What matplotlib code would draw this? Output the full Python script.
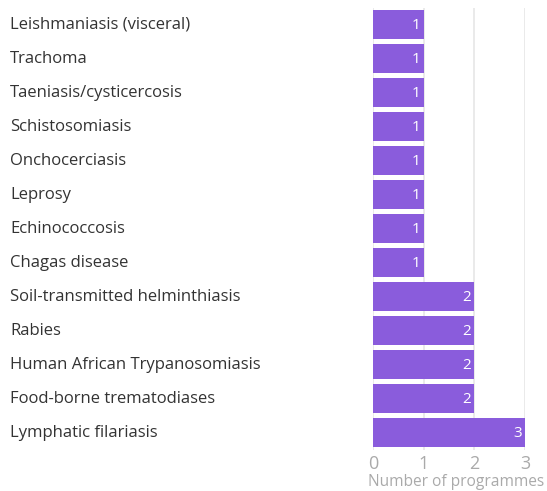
import matplotlib.pyplot as plt
import matplotlib.transforms as mtransforms

diseases = ['Leishmaniasis (visceral)', 'Trachoma', 'Taeniasis/cysticercosis',
            'Schistosomiasis', 'Onchocerciasis', 'Leprosy', 'Echinococcosis',
            'Chagas disease', 'Soil-transmitted helminthiasis', 'Rabies',
            'Human African Trypanosomiasis', 'Food-borne trematodiases',
            'Lymphatic filariasis']
programmes = [1, 1, 1, 1, 1, 1, 1, 1, 2, 2, 2, 2, 3]
xticks = [0, 1, 2, 3]

plt.rcParams['font.family'] = ['Open Sans', 'DejaVu Sans']

W, H = 547, 491
fig = plt.figure(figsize=(W / 100, H / 100), dpi=100)
ax = fig.add_axes([373 / W, 1 - 449.5 / H, 152 / W, 442 / H])

ypos = list(range(len(diseases)))
ax.barh(ypos, programmes, height=0.85, color='#8a5cdc', zorder=3)
for y, v in zip(ypos, programmes):
    ax.text(v - 0.06, y + 0.03, str(v), ha='right', va='center', color='white',
            fontsize=11, zorder=4)

# category names sit at the left edge of the figure
trans = mtransforms.blended_transform_factory(fig.transFigure, ax.transData)
for y, name in zip(ypos, diseases):
    ax.text(10 / W, y, name, transform=trans, ha='left', va='center',
            fontsize=12, color='#333333')

ax.set_xlim(0, 3)
ax.set_ylim(len(diseases) - 0.5, -0.5)
ax.set_xticks(xticks)
ax.set_xticklabels([str(t) for t in xticks])
ax.set_yticks([])
ax.grid(axis='x', color='#e6e6e6', linewidth=1.2, zorder=0)
ax.tick_params(axis='x', length=0, labelsize=13, labelcolor='#aaaaaa', pad=4)
for s in ax.spines.values():
    s.set_visible(False)
ax.set_xlabel('Number of programmes', color='#aaaaaa', fontsize=11.2)
ax.xaxis.set_label_coords(0.548, -0.055)

fig.savefig('out.png', dpi=100)
